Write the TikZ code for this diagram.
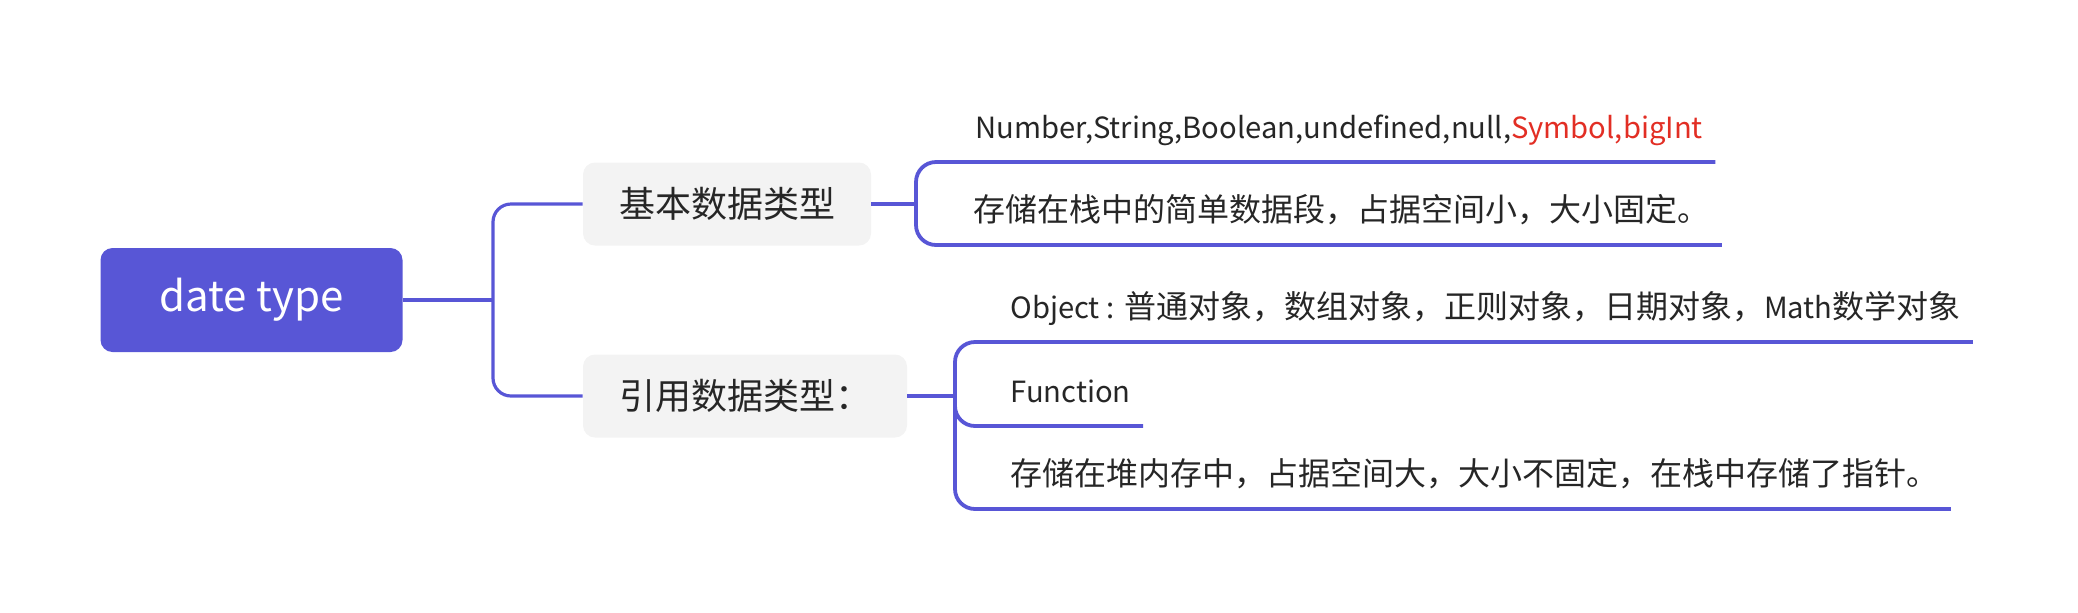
\documentclass[tikz,border=0pt]{standalone}
\usepackage{fontspec}
\setmainfont{Noto Sans CJK SC}
\usetikzlibrary{positioning}
\definecolor{mapblue}{RGB}{88,86,214}
\definecolor{boxgray}{RGB}{243,243,243}
\definecolor{inkgray}{RGB}{38,38,38}
\definecolor{keyred}{RGB}{226,46,36}
\newcommand{\lat}[1]{{\fontsize{14.6}{18}\selectfont #1}}

\begin{document}
\begin{tikzpicture}[x=0.5pt,y=-0.5pt,
    branch/.style={draw=mapblue,line width=1.6pt},
    bracket/.style={draw=mapblue,line width=1.9pt,rounded corners=10pt},
    rootbox/.style={rectangle,rounded corners=6pt,fill=mapblue,text=white,minimum width=151pt,minimum height=52pt,font=\fontsize{21}{24}\selectfont},
    topicbox/.style={rectangle,rounded corners=6pt,fill=boxgray,text=inkgray,minimum height=41.5pt,font=\fontsize{18}{22}\selectfont},
    leaf/.style={anchor=south west,inner xsep=6pt,inner ysep=11.5pt,text depth=0pt,text=inkgray,font=\fontsize{16}{20}\selectfont}]

\useasboundingbox (0,0) rectangle (2078,612);

% Racine
\node[rootbox] (root) at (251.5,300) {date type};

% Branches
\node[topicbox,minimum width=144pt] (basic) at (727,204) {基本数据类型};
\node[topicbox,minimum width=162pt] (ref) at (745,396) {引用数据类型：};

% Feuilles
\node[leaf] (types) at (963,162) {\lat{Number,String,Boolean,undefined,null,\textcolor{keyred}{Symbol,bigInt}}};
\node[leaf] (stack) at (961,245) {存储在栈中的简单数据段，占据空间小，大小固定。};
\node[leaf] (object) at (998,342) {\lat{Object :} 普通对象，数组对象，正则对象，日期对象，\lat{Math}数学对象};
\node[leaf] (func) at (998,426) {\lat{Function}};
\node[leaf] (heap) at (998,509) {存储在堆内存中，占据空间大，大小不固定，在栈中存储了指针。};

% Points de fourche
\coordinate (hub) at (493,300);
\coordinate (fork1) at (916,204);
\coordinate (fork2) at (955,396);

% Liens
\draw[branch] (root.east) -- (hub);
\draw[branch,rounded corners=9pt] (basic.west) -| (hub) |- (ref.west);
\draw[branch] (basic.east) -- (fork1);
\draw[bracket] (types.south east) -| (fork1) |- (stack.south east);
\draw[branch] (ref.east) -- (fork2);
\draw[bracket] (object.south east) -| (fork2) |- (heap.south east);
\draw[bracket] (fork2) |- (func.south east);

\end{tikzpicture}
\end{document}
